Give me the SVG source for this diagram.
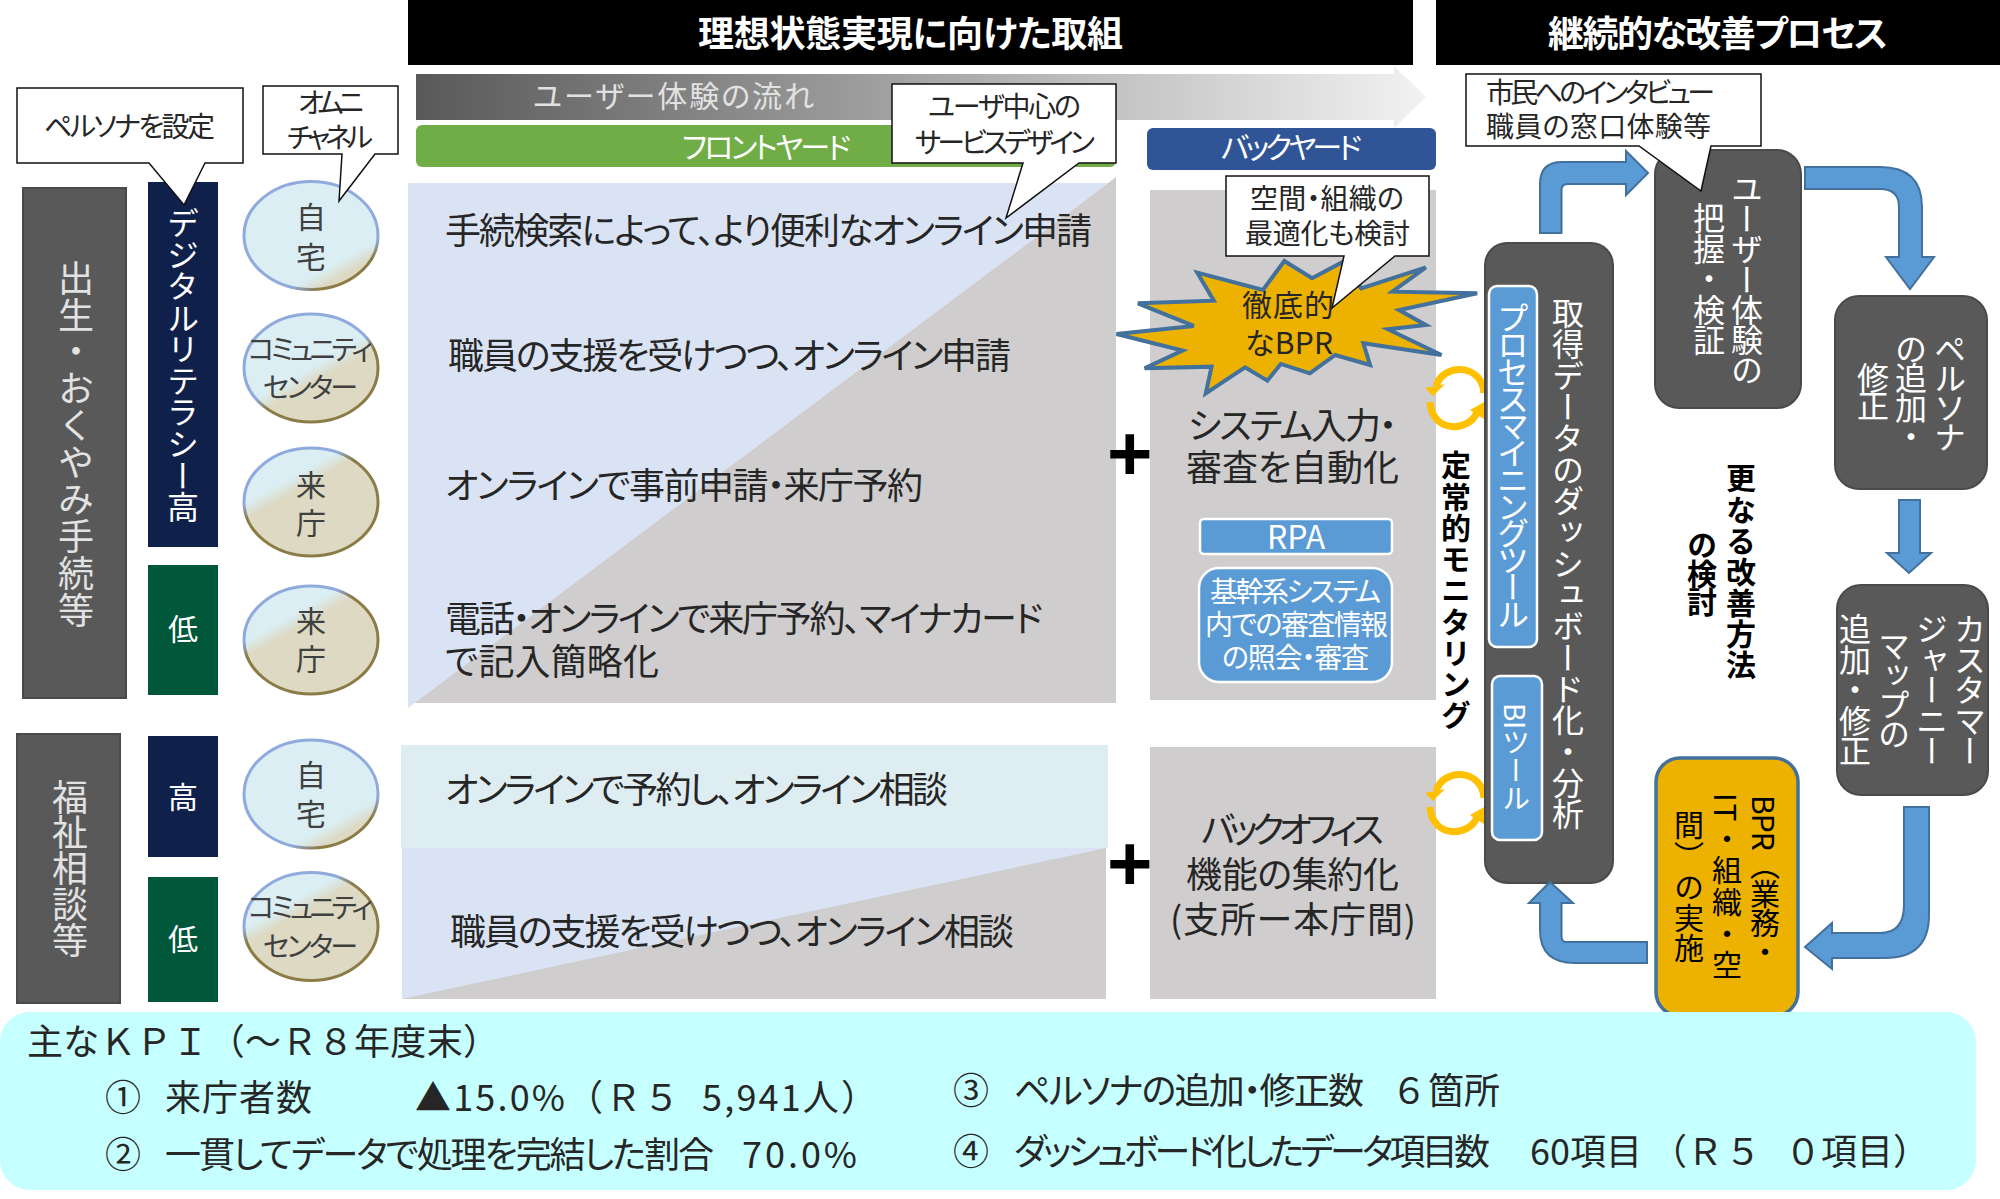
<svg xmlns="http://www.w3.org/2000/svg" xmlns:xlink="http://www.w3.org/1999/xlink" width="2000" height="1199" viewBox="0 0 2000 1199">
<style>
text{font-family:"Noto Sans CJK JP","Noto Sans",sans-serif;fill:#262626;white-space:pre;font-feature-settings:"palt"}
.s36{font-size:36px}.s32{font-size:32px}.s30{font-size:30px}.s28{font-size:28px}
.w{fill:#fff}.lt{fill:#e2e2e2}.k{fill:#000}.d{fill:#404040}
.b{font-weight:700}
.v{writing-mode:vertical-rl;font-feature-settings:normal}
.np{font-feature-settings:normal}
.call{fill:#fff;stroke:#111;stroke-width:1.5}
.dark{fill:#595959;stroke:#4a4a4a;stroke-width:2}
.blue{fill:#5B9BD5;stroke:#fff;stroke-width:2.5}
.arr{fill:#5B9BD5;stroke:#41719C;stroke-width:2}
.gray{fill:#CFCDCD}
.navy{fill:#0F204B}.grn{fill:#00573A}
.loop{fill:none;stroke:#FFC000;stroke-width:7}
</style>
<defs>
<linearGradient id="flow" x1="0" x2="1" y1="0" y2="0"><stop offset="0" stop-color="#595959"/><stop offset="1" stop-color="#f2f2f2"/></linearGradient>
<linearGradient id="f1" x1=".15" y1="0" x2=".85" y2="1"><stop offset=".76" stop-color="#DAEEF3"/><stop offset=".86" stop-color="#DDD9C3"/></linearGradient>
<linearGradient id="l1" x1=".15" y1="0" x2=".85" y2="1"><stop offset=".76" stop-color="#8FAADC"/><stop offset=".86" stop-color="#8B7B45"/></linearGradient>
<linearGradient id="f2" x1=".15" y1="0" x2=".85" y2="1"><stop offset=".5" stop-color="#DAEEF3"/><stop offset=".6" stop-color="#DDD9C3"/></linearGradient>
<linearGradient id="l2" x1=".15" y1="0" x2=".85" y2="1"><stop offset=".5" stop-color="#8FAADC"/><stop offset=".6" stop-color="#8B7B45"/></linearGradient>
<linearGradient id="f3" x1=".15" y1="0" x2=".85" y2="1"><stop offset=".28" stop-color="#DAEEF3"/><stop offset=".38" stop-color="#DDD9C3"/></linearGradient>
<linearGradient id="l3" x1=".15" y1="0" x2=".85" y2="1"><stop offset=".28" stop-color="#8FAADC"/><stop offset=".38" stop-color="#8B7B45"/></linearGradient>
<g id="loopmark">
<path class="loop" d="M-20 -12C-12 -36 26 -34 28 -5"/>
<polygon points="-31,-10 -11,-14 -23,-2" fill="#FFC000"/>
<path class="loop" d="M-26 4C-24 36 14 34 21 14"/>
<polygon points="14,12 30,3 28,21" fill="#FFC000"/>
</g>
</defs>
<rect width="2000" height="1199" fill="#fff"/>

<g id="header-left"><rect x="408" y="0" width="1005" height="65" fill="#000"/><text class="s36 w b" x="698" y="47" textLength="425">理想状態実現に向けた取組</text></g>
<g id="header-right"><rect x="1436" y="0" width="564" height="65" fill="#000"/><text class="s36 w b" x="1548" y="47" textLength="340">継続的な改善プロセス</text></g>
<g id="flow-arrow"><polygon points="416,74 1394,74 1394,66 1426,97 1394,128 1394,120 416,120" fill="url(#flow)"/><text class="s30 lt" x="533" y="107" textLength="281">ユーザー体験の流れ</text></g>
<g id="frontyard"><rect x="416" y="125" width="700" height="42" rx="6" fill="#70AD47"/><text class="s30 w" x="682" y="158" textLength="169">フロントヤード</text></g>
<g id="backyard"><rect x="1147" y="128" width="289" height="42" rx="6" fill="#2F5597"/><text class="s30 w" x="1221" y="158" textLength="141">バックヤード</text></g>

<g id="pane-upper">
<polygon class="gray" points="1116,177 1116,703 414,703"/>
<polygon points="408,183 1108,183 408,708" fill="#DAE3F3"/>
</g>
<g id="pane-lower">
<rect x="402" y="848" width="704" height="151" class="gray"/>
<polygon points="402,848 1106,848 402,999" fill="#DAE3F3"/>
<rect x="401" y="745" width="707" height="103" fill="#DEEDF2"/>
</g>
<g id="pane-back-upper"><rect x="1150" y="190" width="286" height="510" class="gray"/></g>
<g id="pane-back-lower"><rect x="1150" y="747" width="286" height="252" class="gray"/></g>

<g id="life-events"><rect class="dark" x="23" y="188" width="103" height="510"/><text class="s36 v lt" x="76" y="260" textLength="368">出生・おくやみ手続等</text></g>
<g id="welfare"><rect class="dark" x="17" y="734" width="103" height="269"/><text class="s36 v lt" x="70" y="779" textLength="179">福祉相談等</text></g>
<g id="lit-high"><rect class="navy" x="148" y="182" width="70" height="365"/><text class="s32 v w" x="183" y="207" textLength="316">デジタルリテラシー高</text></g>
<g id="lit-low"><rect class="grn" x="148" y="565" width="70" height="130"/><text class="s30 w" x="168" y="640">低</text></g>
<g id="lit-high2"><rect class="navy" x="148" y="736" width="70" height="121"/><text class="s30 w" x="168" y="808">高</text></g>
<g id="lit-low2"><rect class="grn" x="148" y="877" width="70" height="125"/><text class="s30 w" x="168" y="950">低</text></g>

<g id="ch1"><ellipse cx="311" cy="235.5" rx="67" ry="54" fill="url(#f1)" stroke="url(#l1)" stroke-width="3"/><text class="s30 d" x="296" y="228">自</text><text class="s30 d" x="296" y="268">宅</text></g>
<g id="ch2"><ellipse cx="311" cy="368" rx="67" ry="54" fill="url(#f2)" stroke="url(#l2)" stroke-width="3"/><text class="s28 d" x="248" y="360" textLength="125">コミュニティ</text><text class="s28 d" x="263" y="398" textLength="95">センター</text></g>
<g id="ch3"><ellipse cx="311" cy="502" rx="67" ry="54" fill="url(#f3)" stroke="url(#l3)" stroke-width="3"/><text class="s30 d" x="296" y="496">来</text><text class="s30 d" x="296" y="534">庁</text></g>
<g id="ch4"><ellipse cx="311" cy="640" rx="67" ry="54" fill="url(#f3)" stroke="url(#l3)" stroke-width="3"/><text class="s30 d" x="296" y="632">来</text><text class="s30 d" x="296" y="670">庁</text></g>
<g id="ch5"><ellipse cx="311" cy="794" rx="67" ry="54" fill="url(#f1)" stroke="url(#l1)" stroke-width="3"/><text class="s30 d" x="296" y="786">自</text><text class="s30 d" x="296" y="825">宅</text></g>
<g id="ch6"><ellipse cx="311" cy="926.5" rx="67" ry="54" fill="url(#f3)" stroke="url(#l3)" stroke-width="3"/><text class="s28 d" x="248" y="918" textLength="125">コミュニティ</text><text class="s28 d" x="263" y="957" textLength="95">センター</text></g>

<g id="front-texts">
<text class="s36" x="445" y="244" textLength="647">手続検索によって、より便利なオンライン申請</text>
<text class="s36" x="448" y="369" textLength="563">職員の支援を受けつつ、オンライン申請</text>
<text class="s36" x="445" y="499" textLength="478">オンラインで事前申請・来庁予約</text>
<text class="s36" x="445" y="632" textLength="598">電話・オンラインで来庁予約、マイナカード</text>
<text class="s36" x="445" y="675" textLength="214">で記入簡略化</text>
<text class="s36" x="445" y="803" textLength="503">オンラインで予約し、オンライン相談</text>
<text class="s36" x="450" y="945" textLength="564">職員の支援を受けつつ、オンライン相談</text>
</g>
<text id="plus1" class="k b" x="1107" y="480" font-size="78" style="font-family:'Liberation Sans',sans-serif">+</text>
<text id="plus2" class="k b" x="1107" y="890" font-size="78" style="font-family:'Liberation Sans',sans-serif">+</text>

<g id="back-texts">
<text class="s36" x="1188" y="439" textLength="209">システム入力・</text>
<text class="s36" x="1186" y="481" textLength="213">審査を自動化</text>
<text class="s36" x="1201" y="843" textLength="183">バックオフィス</text>
<text class="s36" x="1186" y="888" textLength="213">機能の集約化</text>
<text class="s36" x="1170" y="933" textLength="246">(支所ー本庁間)</text>
</g>
<g id="rpa"><rect class="blue" x="1200" y="519" width="192" height="35" rx="4"/><text class="s32 w" x="1296" y="549" text-anchor="middle">RPA</text></g>
<g id="core"><rect class="blue" x="1199" y="568" width="193" height="114" rx="20"/><text class="s28 w" x="1210" y="602" textLength="171">基幹系システム</text><text class="s28 w" x="1205" y="635" textLength="183">内での審査情報</text><text class="s28 w" x="1222" y="668" textLength="147">の照会・審査</text></g>

<g id="bpr-burst"><polygon transform="translate(850 60) scale(.4464 .3333)" points="597,822 770,798 645,730 815,722 778,638 925,690 973,603 1035,655 1105,605 1145,685 1290,622 1215,695 1405,700 1230,750 1290,795 1205,808 1325,885 1150,850 1165,915 1087,885 1030,940 965,912 935,962 885,922 797,1000 810,920 660,925 745,872" fill="#EDB200" stroke="#41719C" stroke-width="4" stroke-linejoin="miter" vector-effect="non-scaling-stroke"/><text class="s30" x="1242" y="316" textLength="92">徹底的</text><text class="s30" x="1245" y="354" textLength="88">なBPR</text></g>

<g id="call-persona"><path class="call" d="M17 88H243V163H205L184 205L149 163H17Z"/><text class="s28" x="44" y="137" textLength="171">ペルソナを設定</text></g>
<g id="call-omni"><path class="call" d="M263 86H398V154H375L339 201L342 154H263Z"/><text class="s28" x="298" y="113" textLength="66">オムニ</text><text class="s28" x="287" y="148" textLength="86">チャネル</text></g>
<g id="call-ucd"><path class="call" d="M892 84H1116V163H1079L1006 218L1023 163H892Z"/><text class="s28" x="928" y="117" textLength="153">ユーザ中心の</text><text class="s28" x="915" y="153" textLength="180">サービスデザイン</text></g>
<g id="call-space"><path class="call" d="M1226 176H1429V256H1395L1332 308L1344 256H1226Z"/><text class="s28" x="1250" y="209" textLength="154">空間・組織の</text><text class="s28" x="1245" y="244" textLength="165">最適化も検討</text></g>

<g id="loop1"><use xlink:href="#loopmark" href="#loopmark" x="1456" y="398"/></g>
<g id="loop2"><use xlink:href="#loopmark" href="#loopmark" x="1456" y="803"/></g>
<g id="monitoring"><text class="s30 v k b" x="1456" y="450" textLength="280">定常的モニタリング</text></g>

<g id="node-data"><rect class="dark" x="1485" y="243" width="128" height="640" rx="22"/><text class="s32 v w" x="1568" y="297" textLength="533">取得データのダッシュボード化・分析</text></g>
<g id="node-pm"><rect class="blue" x="1489" y="286" width="48" height="361" rx="8"/><text class="s32 v w" x="1513" y="302" textLength="328">プロセスマイニングツール</text></g>
<g id="node-bi"><rect class="blue" x="1492" y="676" width="50" height="164" rx="8"/><text class="s28 v w" x="1516" y="703" textLength="109">BIツール</text></g>
<g id="node-ux"><rect class="dark" x="1655" y="150" width="146" height="258" rx="24"/><text class="s32 v w" x="1747" y="173" textLength="213">ユーザー体験の</text><text class="s32 v w" x="1709" y="202" textLength="154">把握・検証</text></g>
<g id="node-persona"><rect class="dark" x="1835" y="296" width="152" height="193" rx="24"/><text class="s32 v w" x="1950" y="333" textLength="120">ペルソナ</text><text class="s32 v w" x="1911" y="333" textLength="120">の追加・</text><text class="s32 v w" x="1873" y="362" textLength="60">修正</text></g>
<g id="node-journey"><rect class="dark" x="1837" y="585" width="151" height="210" rx="24"/><text class="s32 v w" x="1970" y="613" textLength="154">カスタマー</text><text class="s32 v w" x="1932" y="613" textLength="154">ジャーニー</text><text class="s32 v w" x="1894" y="630" textLength="120">マップの</text><text class="s32 v w" x="1855" y="613" textLength="154">追加・修正</text></g>
<g id="node-bpr"><rect x="1656" y="758" width="142" height="258" rx="24" fill="#EDB200" stroke="#41719C" stroke-width="3.500"/><text class="s30 v k" x="1765" y="795" textLength="172">BPR（業務・</text><text class="s30 v k" x="1727" y="793" textLength="187">IT・組織・空</text><text class="s30 v k" x="1689" y="810" textLength="153">間）の実施</text></g>
<g id="note-more"><text class="s30 v k b" x="1741" y="463" textLength="217">更なる改善方法</text><text class="s30 v k b" x="1702" y="530" textLength="87">の検討</text></g>

<g id="connectors">
<path class="arr" d="M1540 233V184Q1540 162 1562 162H1626V151L1648 173L1626 195V184H1568Q1561.500 184 1561.500 190V233Z"/>
<path class="arr" d="M1805 167H1880Q1922 167 1922 207V257H1934L1910 289L1886 257H1899V207Q1899 189 1880 189H1805Z"/>
<path class="arr" d="M1899 500H1920V553H1931L1909 573L1887 553H1899Z"/>
<path class="arr" d="M1904 807V905Q1904 933 1880 933H1832V923L1805 947L1832 969V958H1885Q1929 958 1929 915V807Z"/>
<path class="arr" d="M1647 942H1566Q1561.500 942 1561.500 936V903H1573L1550 882L1529 903H1540V930Q1540 963 1575 963H1647Z"/>
</g>
<g id="call-citizen"><path class="call" d="M1466 74H1761V146H1711L1701 191L1639 146H1466Z"/><text class="s28" x="1486" y="103" textLength="229">市民へのインタビュー</text><text class="s28" x="1486" y="137" textLength="225">職員の窓口体験等</text></g>

<g id="kpi">
<rect x="0" y="1012" width="1976" height="178" rx="30" fill="#C5FFFF"/>
<text class="s36 np" x="27" y="1055" textLength="472">主なＫＰＩ（～Ｒ８年度末）</text>
<text class="s36" x="105" y="1111" textLength="32">①</text><text class="s36" x="165" y="1111" textLength="147">来庁者数</text>
<text class="s36 np" x="415" y="1111" textLength="462">▲15.0%（Ｒ５  5,941人）</text>
<text class="s36" x="105" y="1168" textLength="32">②</text><text class="s36" x="165" y="1168" textLength="549">一貫してデータで処理を完結した割合</text><text class="s36" x="742" y="1168" textLength="115">70.0%</text>
<text class="s36" x="953" y="1104" textLength="35">③</text><text class="s36" x="1014" y="1104" textLength="350">ペルソナの追加・修正数</text><text class="s36 np" x="1391" y="1104"><tspan>６</tspan><tspan x="1428">箇所</tspan></text>
<text class="s36" x="953" y="1165" textLength="35">④</text><text class="s36" x="1014" y="1165" textLength="476">ダッシュボード化したデータ項目数</text><text class="s36 np" y="1165"><tspan x="1530">60項目</tspan><tspan x="1651">（</tspan><tspan x="1687">Ｒ</tspan><tspan x="1725">５</tspan><tspan x="1785">０</tspan><tspan x="1821">項目</tspan><tspan x="1893">）</tspan></text>
</g>
</svg>
